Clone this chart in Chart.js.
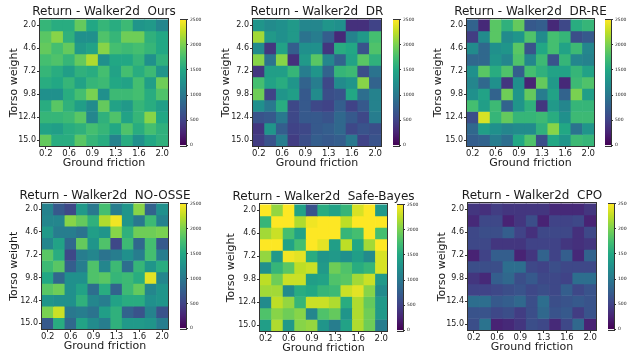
<!DOCTYPE html>
<html>
<head>
<meta charset="utf-8">
<script src="https://cdn.jsdelivr.net/npm/chart.js@4"></script>
<style>
  html, body { margin: 0; padding: 0; background: #fff; }
  body { width: 627px; height: 355px; overflow: hidden; position: relative; }
  canvas { position: absolute; }
</style>
</head>
<body>
<script>
// grid axes (11 x 11 cells), labels shown every second cell
const frictionLabels = ['0.2', '0.4', '0.6', '0.7', '0.9', '1.1', '1.3', '1.5', '1.6', '1.8', '2.0'];
const torsoTicks = ['2.0', '4.6', '7.2', '9.8', '12.4', '15.0'];
const colorbarMax = 2500;

// returns per cell, rows = torso weight (top to bottom), cols = ground friction
const ours = [
  [1650, 1550, 1550, 1900, 1500, 1650, 1550, 1700, 1300, 1350, 1150],
  [1850, 2050, 1600, 1250, 1250, 1800, 1650, 1950, 1950, 1600, 1500],
  [1900, 1750, 1900, 1350, 1450, 2050, 1750, 1700, 1750, 1650, 1500],
  [1750, 1800, 1650, 1900, 2200, 1250, 1500, 1500, 1650, 1250, 1600],
  [1650, 1550, 1400, 1600, 1550, 1750, 1450, 1750, 1550, 1700, 1300],
  [1550, 1500, 1650, 1450, 1650, 1700, 1500, 1450, 1750, 1400, 1950],
  [1250, 1250, 1550, 1750, 2000, 1250, 1700, 1700, 1750, 1550, 1800],
  [1550, 1850, 1600, 1400, 1200, 1900, 1450, 1350, 1650, 1550, 1400],
  [1650, 1650, 1700, 1850, 1150, 1600, 1800, 1450, 1650, 2050, 1500],
  [1450, 1400, 1550, 1600, 1750, 1650, 1500, 1800, 1550, 1750, 1600],
  [1900, 1550, 1550, 1850, 1650, 1550, 1100, 1550, 1250, 1500, 1600]
];

const dr = [
  [1300, 1200, 1250, 1350, 1150, 1150, 1300, 1250, 350, 350, 500],
  [2150, 1350, 1250, 1350, 950, 1050, 750, 300, 1100, 1350, 1750],
  [1200, 400, 1450, 750, 1250, 1250, 400, 1550, 1500, 650, 1800],
  [2050, 950, 2050, 350, 1350, 1850, 1150, 800, 1450, 1850, 1600],
  [400, 1400, 1400, 1650, 1050, 1300, 800, 1650, 1700, 600, 950],
  [1750, 1450, 1550, 1300, 800, 1050, 550, 1200, 1300, 2050, 800],
  [1950, 500, 1300, 1400, 700, 1200, 600, 650, 1500, 900, 1100],
  [1250, 1000, 1550, 550, 700, 550, 500, 750, 500, 700, 1100],
  [650, 700, 1000, 550, 700, 700, 650, 850, 700, 550, 1050],
  [400, 1300, 750, 500, 550, 700, 750, 850, 550, 650, 600],
  [450, 650, 1050, 450, 600, 750, 700, 750, 1000, 500, 650]
];

const drRe = [
  [800, 300, 1850, 1600, 1900, 700, 750, 300, 550, 1550, 1650],
  [450, 1200, 1850, 1200, 1300, 1800, 1200, 1750, 1650, 600, 700],
  [1200, 850, 1250, 1300, 1850, 650, 1500, 1750, 1450, 1700, 1150],
  [850, 850, 1300, 1150, 1800, 1150, 1700, 650, 1650, 1150, 1100],
  [1250, 1850, 1550, 1800, 750, 1750, 1600, 1450, 1450, 1650, 1450],
  [1150, 850, 1250, 400, 1250, 250, 1900, 1350, 300, 1700, 1800],
  [1250, 1450, 800, 1950, 1300, 1900, 1050, 1450, 800, 2000, 1400],
  [1750, 1400, 1700, 800, 1300, 1600, 400, 1350, 1150, 1650, 1650],
  [600, 2350, 1650, 1900, 1650, 1650, 1700, 1550, 1250, 1700, 1700],
  [850, 1400, 1250, 1150, 1200, 1200, 1600, 2050, 1500, 950, 1300],
  [750, 800, 1050, 900, 1500, 1800, 600, 1500, 1300, 1700, 1650]
];

const noOsse = [
  [1100, 700, 550, 1350, 1000, 1750, 1050, 1300, 2050, 800, 1250],
  [1150, 1150, 2050, 1900, 1600, 2200, 2450, 1300, 1000, 1700, 1100],
  [1350, 1050, 1050, 950, 1400, 1300, 2050, 1600, 1950, 1950, 2000],
  [1150, 1450, 850, 1900, 1300, 1800, 550, 1700, 850, 1750, 700],
  [1850, 1550, 550, 1050, 1150, 950, 1050, 1250, 1050, 1750, 1050],
  [1700, 1850, 750, 1050, 1800, 1150, 1700, 900, 1650, 1300, 1550],
  [1500, 850, 1250, 1250, 1800, 1850, 1650, 1700, 1550, 2400, 1150],
  [1850, 1950, 1250, 1450, 900, 1550, 800, 1700, 1900, 1150, 1300],
  [1300, 1250, 1250, 1600, 1150, 1050, 1450, 1550, 1550, 1250, 1300],
  [2000, 2300, 1000, 1050, 950, 1400, 1600, 800, 650, 1100, 650],
  [700, 1550, 850, 1450, 1200, 1050, 1600, 1350, 1350, 1300, 1050]
];

const safeBayes = [
  [2500, 2100, 2500, 1450, 650, 1550, 1450, 1650, 2350, 2500, 1350],
  [1650, 2500, 2500, 2200, 2450, 2500, 2500, 2250, 2500, 2500, 2500],
  [2150, 2300, 1750, 1450, 2500, 2500, 2500, 1650, 1750, 2500, 1750],
  [2500, 2500, 1450, 1750, 2500, 2400, 1400, 2250, 1500, 2150, 2500],
  [2100, 1350, 2450, 2400, 1550, 1300, 1350, 1250, 1400, 1200, 2350],
  [1250, 1650, 1850, 2250, 2300, 1350, 1950, 1800, 1550, 1650, 2350],
  [2250, 1950, 2300, 2300, 1400, 1450, 1800, 1850, 2150, 2300, 1350],
  [2150, 2150, 1200, 1550, 1500, 1650, 1700, 2300, 2400, 2050, 1200],
  [1200, 2250, 2100, 1650, 2300, 2300, 2200, 1550, 2200, 1900, 1350],
  [1800, 2050, 1950, 2050, 1150, 1800, 1900, 1300, 2200, 1950, 1350],
  [1400, 2200, 1350, 2050, 2100, 1300, 1050, 1450, 2200, 1950, 1050]
];

const cpo = [
  [400, 350, 450, 400, 400, 400, 400, 300, 300, 300, 400],
  [300, 550, 550, 250, 400, 600, 250, 500, 500, 550, 250],
  [550, 600, 600, 750, 500, 350, 550, 550, 550, 350, 550],
  [550, 550, 400, 400, 400, 500, 500, 500, 400, 350, 400],
  [250, 500, 750, 750, 250, 400, 800, 500, 750, 300, 800],
  [600, 600, 600, 900, 900, 550, 500, 600, 550, 550, 550],
  [400, 300, 750, 850, 600, 700, 550, 550, 500, 900, 900],
  [500, 500, 550, 600, 650, 550, 600, 550, 750, 550, 650],
  [900, 900, 700, 750, 850, 600, 900, 600, 650, 700, 650],
  [650, 650, 550, 600, 450, 600, 850, 650, 700, 450, 650],
  [600, 950, 250, 300, 400, 600, 550, 300, 550, 850, 250]
];

// viridis sampled every 0.1
const VIRIDIS = [
  [68, 1, 84], [72, 35, 116], [64, 67, 135], [52, 94, 141], [41, 120, 142], [32, 144, 140],
  [34, 167, 132], [68, 190, 112], [121, 209, 81], [189, 222, 38], [253, 231, 36]
];

function viridis(t) {
  t = Math.max(0, Math.min(1, t));
  const x = t * 10;
  const i = Math.min(9, Math.floor(x));
  const f = x - i;
  const a = VIRIDIS[i], b = VIRIDIS[i + 1];
  const c = a.map((v, k) => Math.round(v + (b[k] - v) * f));
  return `rgb(${c[0]},${c[1]},${c[2]})`;
}

Chart.defaults.font.family = '"DejaVu Sans", sans-serif';
Chart.defaults.color = '#1a1a1a';
Chart.defaults.animation = false;

const frame = {
  id: 'frame',
  afterDatasetsDraw(chart) {
    const a = chart.chartArea;
    const ctx = chart.ctx;
    ctx.save();
    ctx.strokeStyle = '#333';
    ctx.lineWidth = 1;
    ctx.strokeRect(Math.round(a.left) - 0.5, Math.round(a.top) - 0.5,
      Math.round(a.right - a.left) + 1, Math.round(a.bottom - a.top) + 1);
    ctx.restore();
  }
};

function addCanvas(left, top, width, height) {
  const c = document.createElement('canvas');
  c.width = Math.round(width);
  c.height = Math.round(height);
  c.style.left = Math.round(left) + 'px';
  c.style.top = Math.round(top) + 'px';
  c.style.width = Math.round(width) + 'px';
  c.style.height = Math.round(height) + 'px';
  document.body.appendChild(c);
  return c;
}

const Y_AXIS_W = 40;
const X_AXIS_H = 24;
const TITLE_H = 12 * 1.2;

function drawHeatmap(p) {
  const [l, t, r, b] = p.area;
  // symmetric canvas so the title centres over the plot
  const cv = addCanvas(l - Y_AXIS_W, t - TITLE_H, (r - l) + 2 * Y_AXIS_W, b + X_AXIS_H - (t - TITLE_H));

  const datasets = p.grid.map((row, ri) => ({
    data: row.map(() => [ri - 0.5, ri + 0.5]),
    backgroundColor: row.map(v => viridis(v / colorbarMax)),
    borderWidth: 0,
    barPercentage: 1,
    categoryPercentage: 1,
    grouped: false
  }));

  new Chart(cv, {
    type: 'bar',
    data: { labels: frictionLabels, datasets },
    options: {
      responsive: false,
      layout: { padding: 0 },
      plugins: {
        legend: { display: false },
        tooltip: { enabled: false },
        title: {
          display: true,
          text: 'Return - Walker2d  ' + p.name,
          font: { size: 12, weight: 'normal', lineHeight: 1.2 },
          color: '#1a1a1a',
          padding: { top: 0, bottom: 0 }
        }
      },
      scales: {
        x: {
          offset: true,
          grid: { display: true, drawOnChartArea: false, offset: false, tickLength: 3, color: '#333' },
          border: { display: false },
          ticks: { autoSkip: false, maxRotation: 0, padding: 1, font: { size: 8.5, lineHeight: 1 }, color: '#1a1a1a' },
          afterBuildTicks: s => { s.ticks = s.ticks.filter((tk, i) => i % 2 === 0); },
          title: { display: true, text: 'Ground friction', font: { size: 11, lineHeight: 1.2 }, padding: { top: 0, bottom: 0 }, color: '#1a1a1a' },
          afterFit: s => { s.height = X_AXIS_H; }
        },
        y: {
          type: 'linear',
          min: -0.5,
          max: 10.5,
          reverse: true,
          grid: { display: true, drawOnChartArea: false, tickLength: 3, color: '#333' },
          border: { display: false },
          afterBuildTicks: s => { s.ticks = torsoTicks.map((lab, i) => ({ value: i * 2 })); },
          ticks: { padding: 1, font: { size: 8, lineHeight: 1 }, color: '#1a1a1a', callback: (v, i) => torsoTicks[i] },
          title: { display: true, text: 'Torso weight', font: { size: 11, lineHeight: 1.2 }, padding: { top: 33.4 - p.ylab, bottom: 0 }, color: '#1a1a1a' },
          afterFit: s => { s.width = Y_AXIS_W; }
        },
        yPad: {
          type: 'linear',
          position: 'right',
          grid: { display: false },
          border: { display: false },
          ticks: { display: false },
          afterFit: s => { s.width = Y_AXIS_W; }
        }
      }
    },
    plugins: [frame]
  });

  // colorbar
  const cb = addCanvas(p.cb, t - 4, 6 + 22, (b - t) + 8);
  new Chart(cb, {
    type: 'bar',
    data: {
      labels: [''],
      datasets: [{
        data: [[0, colorbarMax]],
        barPercentage: 1,
        categoryPercentage: 1,
        borderWidth: 0,
        backgroundColor: ctx => {
          const a = ctx.chart.chartArea;
          if (!a) return viridis(0.5);
          const g = ctx.chart.ctx.createLinearGradient(0, a.bottom, 0, a.top);
          VIRIDIS.forEach((c, i) => g.addColorStop(i / 10, `rgb(${c[0]},${c[1]},${c[2]})`));
          return g;
        }
      }]
    },
    options: {
      responsive: false,
      layout: { padding: { top: 4, bottom: 4, left: 0, right: 0 } },
      plugins: { legend: { display: false }, tooltip: { enabled: false } },
      scales: {
        x: { display: false },
        y: {
          position: 'right',
          min: 0,
          max: colorbarMax,
          grid: { drawOnChartArea: false, tickLength: 2, color: '#333' },
          border: { display: false },
          ticks: { stepSize: 500, padding: 2, font: { size: 4.5 }, color: '#1a1a1a', callback: v => String(v) },
          afterFit: s => { s.width = 22; }
        }
      }
    },
    plugins: [frame]
  });
}

const panels = [
  { name: 'Ours', grid: ours, area: [40, 19, 168, 146], cb: 180, ylab: 26 },
  { name: 'DR', grid: dr, area: [253, 19, 381, 146], cb: 393, ylab: 27 },
  { name: 'DR-RE', grid: drRe, area: [467, 19, 594, 146], cb: 605, ylab: 29 },
  { name: 'NO-OSSE', grid: noOsse, area: [42, 203, 168, 329], cb: 180, ylab: 28 },
  { name: 'Safe-Bayes', grid: safeBayes, area: [260, 204, 387, 331], cb: 397, ylab: 29 },
  { name: 'CPO', grid: cpo, area: [468, 203, 596, 330], cb: 608, ylab: 26 }
];

panels.forEach(drawHeatmap);
</script>
</body>
</html>
